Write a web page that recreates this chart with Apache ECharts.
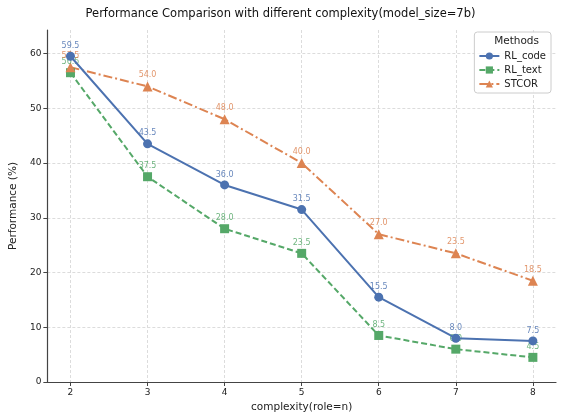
<!DOCTYPE html>
<html>
<head>
<meta charset="utf-8">
<script src="https://cdn.jsdelivr.net/npm/echarts@6/dist/echarts.min.js"></script>
<style>
  html, body { margin: 0; padding: 0; background: #fff; }
  #chart { width: 561px; height: 419px; }
</style>
</head>
<body>
<div id="chart"></div>
<script>
const complexity = [2, 3, 4, 5, 6, 7, 8]
const rlCode = [59.5, 43.5, 36.0, 31.5, 15.5, 8.0, 7.5]
const rlText = [56.5, 37.5, 28.0, 23.5, 8.5, 6.0, 4.5]
const stcor = [57.5, 54.0, 48.0, 40.0, 27.0, 23.5, 18.5]
const yTicks = [0, 10, 20, 30, 40, 50, 60]

const font = 'DejaVu Sans'
const colors = { RL_code: '#4c72b0', RL_text: '#55a868', STCOR: '#dd8452' }

const makeSeries = (name, values, symbol, lineType) => ({
  name,
  type: 'line',
  data: complexity.map((c, i) => [c, values[i]]),
  symbol,
  symbolSize: symbol === 'triangle' ? 10 : 9,
  itemStyle: { color: colors[name] },
  lineStyle: { color: colors[name], width: 2, type: lineType },
  label: {
    show: true,
    position: 'top',
    distance: 2,
    fontFamily: font,
    fontSize: 8,
    color: colors[name],
    opacity: 0.85,
    formatter: p => p.value[1].toFixed(1)
  },
  z: name === 'RL_code' ? 5 : 3
})

const chart = echarts.init(document.getElementById('chart'))
chart.setOption({
  animation: false,
  title: {
    text: 'Performance Comparison with different complexity(model_size=7b)',
    left: 'center',
    top: 3,
    textStyle: { fontFamily: font, fontSize: 11.5, fontWeight: 'normal', color: '#111' }
  },
  grid: { left: 46, right: 5, top: 30, bottom: 37 },
  legend: {
    orient: 'vertical',
    right: 10,
    top: 32,
    padding: [19, 5, 4, 4],
    itemGap: 4,
    itemWidth: 20,
    itemHeight: 9,
    borderColor: '#ccc',
    borderWidth: 1,
    borderRadius: 3,
    backgroundColor: 'rgba(255,255,255,0.8)',
    textStyle: { fontFamily: font, fontSize: 10, color: '#222' },
    data: ['RL_code', 'RL_text', 'STCOR']
  },
  graphic: [{
    type: 'text',
    right: 22,
    top: 36,
    z: 100,
    style: { text: 'Methods', fontFamily: font, fontSize: 10.5, fill: '#222' }
  }],
  xAxis: {
    type: 'value',
    min: 1.7,
    max: 8.3,
    name: 'complexity(role=n)',
    nameLocation: 'middle',
    nameGap: 20,
    nameTextStyle: { fontFamily: font, fontSize: 10.5, color: '#222' },
    axisLine: { lineStyle: { color: '#444', width: 1.2 } },
    axisTick: { customValues: complexity, length: 4, lineStyle: { color: '#444' } },
    axisLabel: { customValues: complexity, fontFamily: font, fontSize: 9, color: '#222', margin: 6 },
    splitLine: { show: true, lineStyle: { color: '#dcdcdc', type: [3, 2] } }
  },
  yAxis: {
    type: 'value',
    min: 0,
    max: 64.3,
    name: 'Performance (%)',
    nameLocation: 'middle',
    nameGap: 24,
    nameTextStyle: { fontFamily: font, fontSize: 10.5, color: '#222' },
    axisLine: { show: true, lineStyle: { color: '#444', width: 1.2 } },
    axisTick: { show: true, customValues: yTicks, length: 4, lineStyle: { color: '#444' } },
    axisLabel: { customValues: yTicks, fontFamily: font, fontSize: 9, color: '#222', margin: 6 },
    splitLine: { show: true, lineStyle: { color: '#dcdcdc', type: [3, 2] } }
  },
  series: [
    makeSeries('RL_code', rlCode, 'circle', 'solid'),
    makeSeries('RL_text', rlText, 'rect', [6, 3]),
    makeSeries('STCOR', stcor, 'triangle', [9, 3, 2, 3])
  ]
})
</script>
</body>
</html>
